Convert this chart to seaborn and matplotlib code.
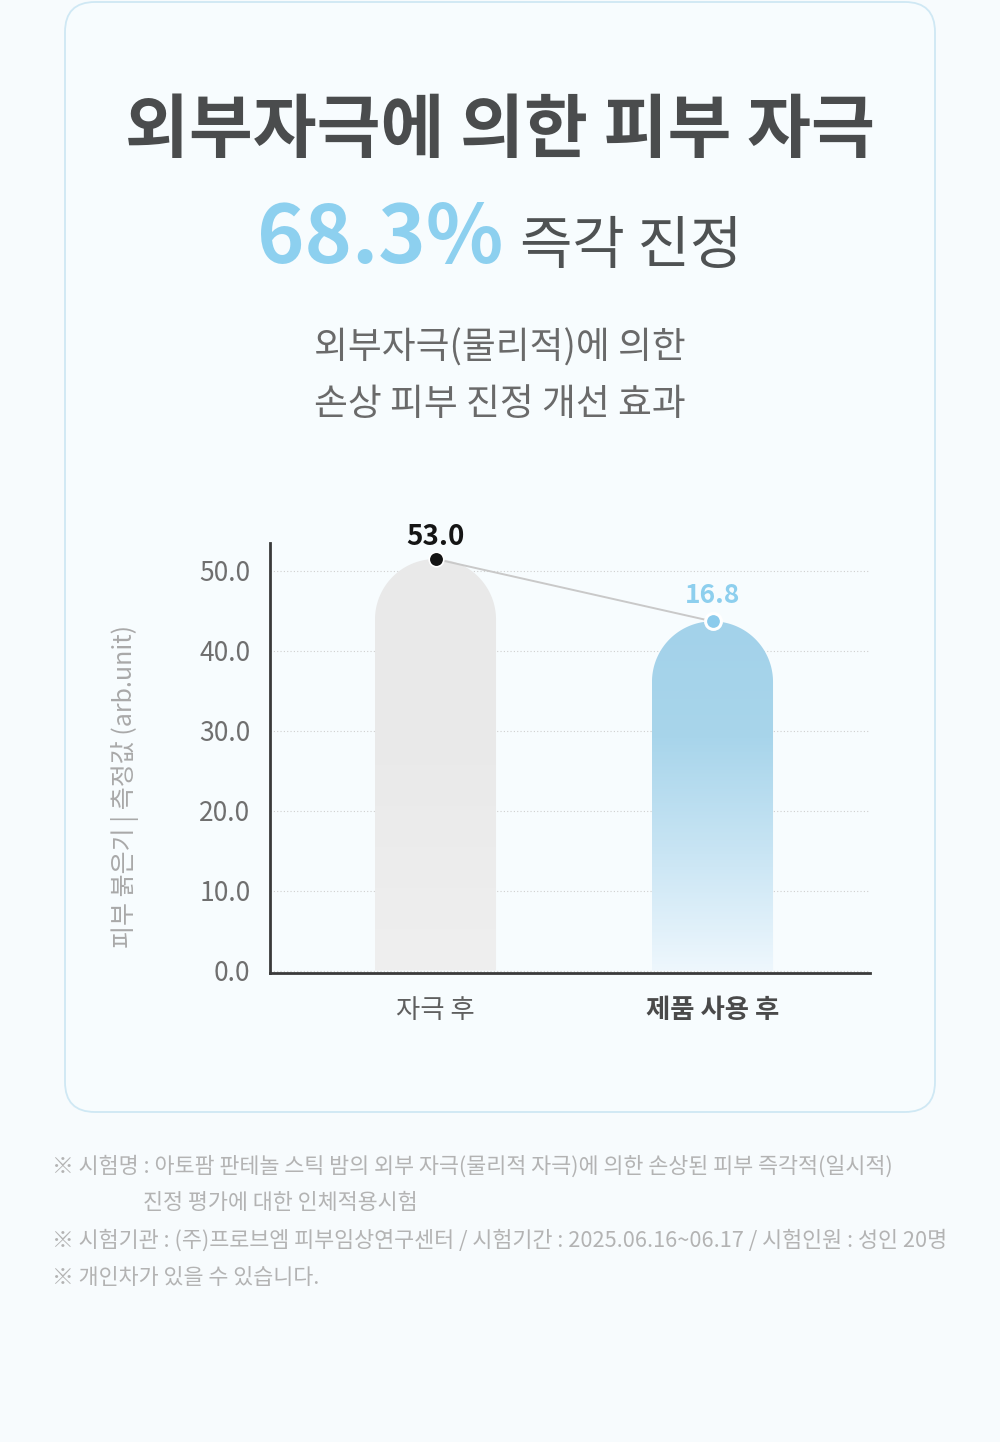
import numpy as np
import matplotlib
matplotlib.use('Agg')
import matplotlib.pyplot as plt
from matplotlib.patches import FancyBboxPatch, PathPatch
from matplotlib.path import Path
from matplotlib.colors import LinearSegmentedColormap
import seaborn as sns

# data
categories = ['자극 후', '제품 사용 후']
bar_heights = [51.5, 43.7]          # drawn heights (arb.unit)
value_labels = ['53.0', '16.8']     # printed values
y_ticks = [0, 10, 20, 30, 40, 50]

title_line1 = '외부자극에 의한 피부 자극'
title_pct = '68.3%'
title_rest = '즉각 진정'
subtitle = ['외부자극(물리적)에 의한', '손상 피부 진정 개선 효과']
y_label = '피부 붉은기 | 측정값 (arb.unit)'
notes = [
    '※ 시험명 : 아토팜 판테놀 스틱 밤의 외부 자극(물리적 자극)에 의한 손상된 피부 즉각적(일시적)',
    '진정 평가에 대한 인체적용시험',
    '※ 시험기관 : (주)프로브엠 피부임상연구센터 / 시험기간 : 2025.06.16~06.17 / 시험인원 : 성인 20명',
    '※ 개인차가 있을 수 있습니다.',
]

sns.set_style('white')
plt.rcParams['font.family'] = ['Noto Sans CJK KR', 'DejaVu Sans']

W, H = 1000, 1442
fig = plt.figure(figsize=(W / 100, H / 100), dpi=100)
fig.patch.set_facecolor('#f7fbfd')

def fx(px):
    return px / W

def fy(py):
    return 1 - py / H

# card (behind everything)
card = FancyBboxPatch((fx(65), fy(1112)), fx(870), 1110 / H,
                      boxstyle='round,pad=0,rounding_size=0.03',
                      transform=fig.transFigure, facecolor='#f7fcfe',
                      edgecolor='#cfe8f4', linewidth=1.3, mutation_aspect=W / H,
                      zorder=-5)
fig.patches.append(card)

# headings
fig.text(0.5, fy(132), title_line1, ha='center', va='center', fontsize=50,
         fontweight='heavy', color='#4a4c4d')
fig.text(fx(503), fy(263), title_pct, ha='right', va='baseline', fontsize=58,
         fontweight='heavy', color='#8dd0ef')
fig.text(fx(520), fy(263), title_rest, ha='left', va='baseline', fontsize=41,
         fontweight='medium', color='#4f5253')
for i, line in enumerate(subtitle):
    fig.text(0.5, fy(348 + 56 * i), line, ha='center', va='center', fontsize=26.5,
             color='#6a6a6a')

# plot area
ax_left, ax_right, ax_top, ax_bottom = 270, 870, 543, 973
ax = fig.add_axes([fx(ax_left), fy(ax_bottom), (ax_right - ax_left) / W,
                   (ax_bottom - ax_top) / H])
ax.set_facecolor('none')
ax.set_zorder(2)

xlim = (-0.5975, 1.5686)
ylim = (-0.3, 53.5)

sns.barplot(x=categories, y=bar_heights, ax=ax, width=0.437, color='#eaeaea',
            errorbar=None)

px_per_x = (ax_right - ax_left) / (xlim[1] - xlim[0])
px_per_y = (ax_bottom - ax_top) / (ylim[1] - ylim[0])

cmaps = [
    LinearSegmentedColormap.from_list('g', ['#efefef', '#eaeaea', '#e9e9e9']),
    LinearSegmentedColormap.from_list('b', ['#eef7fd', '#c9e5f4', '#a8d5eb', '#a3d2ea']),
]

def capsule(x0, w, h):
    rx = w / 2
    ry = rx * px_per_x / px_per_y
    cx = x0 + rx
    top = h - ry
    t = np.linspace(0, np.pi, 80)
    verts = [(x0, 0), (x0 + w, 0), (x0 + w, top)]
    verts += list(zip(cx + rx * np.cos(t), top + ry * np.sin(t)))
    verts += [(x0, top), (x0, 0)]
    codes = [Path.MOVETO] + [Path.LINETO] * (len(verts) - 2) + [Path.CLOSEPOLY]
    return Path(verts, codes)

centers = []
tops = []
for bar, cmap in zip(ax.patches, cmaps):
    x0, w, h = bar.get_x(), bar.get_width(), bar.get_height()
    bar.set_visible(False)
    clip = PathPatch(capsule(x0, w, h), facecolor='none', edgecolor='none',
                     transform=ax.transData)
    ax.add_patch(clip)
    grad = np.linspace(0, 1, 256).reshape(-1, 1)
    im = ax.imshow(grad, extent=[x0, x0 + w, 0, h], origin='lower',
                   aspect='auto', cmap=cmap, zorder=2)
    im.set_clip_path(clip)
    centers.append(x0 + w / 2)
    tops.append(h)

# connector and dots
ax.plot(centers, tops, color='#c9c9c9', linewidth=1.4, zorder=3)
ax.scatter(centers[:1], tops[:1], s=110, color='#141414', edgecolor='white',
           linewidth=1.2, zorder=4)
ax.scatter(centers[1:], tops[1:], s=130, color='#8ccbec', edgecolor='white',
           linewidth=2.2, zorder=4)
ax.annotate(value_labels[0], (centers[0], tops[0]), xytext=(0, 6),
            textcoords='offset points', ha='center', va='bottom', fontsize=20,
            fontweight='bold', color='#151515', annotation_clip=False)
ax.annotate(value_labels[1], (centers[1], tops[1]), xytext=(0, 9),
            textcoords='offset points', ha='center', va='bottom', fontsize=19,
            fontweight='bold', color='#8dcfee', annotation_clip=False)

ax.set_xlim(xlim)
ax.set_ylim(ylim)
ax.set_yticks(y_ticks)
ax.set_yticklabels([f'{v:.1f}' for v in y_ticks], fontsize=19, color='#6f6f6f')
ax.tick_params(axis='y', length=0, pad=14)
ax.tick_params(axis='x', length=0, pad=17)
ax.set_xticks(range(len(categories)))
ax.set_xticklabels(categories, fontsize=19)
xt = ax.get_xticklabels()
xt[0].set_color('#5f5f5f')
xt[1].set_color('#4a4a4a')
xt[1].set_fontweight('bold')
ax.yaxis.grid(True, color='#cfcfcf', linestyle=(0, (1, 2)), linewidth=0.8)
ax.set_axisbelow(True)
ax.set_xlabel('')
ax.set_ylabel('')
for side in ['top', 'right']:
    ax.spines[side].set_visible(False)
for side in ['left', 'bottom']:
    ax.spines[side].set_color('#3a3a3a')
    ax.spines[side].set_linewidth(2)

fig.text(fx(125), fy(786), y_label, rotation=90, ha='center', va='center',
         fontsize=18, color='#a9a9a9')

# footnotes
note_pos = [(52, 1167), (143, 1203), (52, 1241), (52, 1278)]
for (px, py), line in zip(note_pos, notes):
    fig.text(fx(px), fy(py), line, ha='left', va='center', fontsize=15.7,
             color='#b3b3b3')

fig.savefig('out.png', dpi=100, facecolor=fig.get_facecolor())
